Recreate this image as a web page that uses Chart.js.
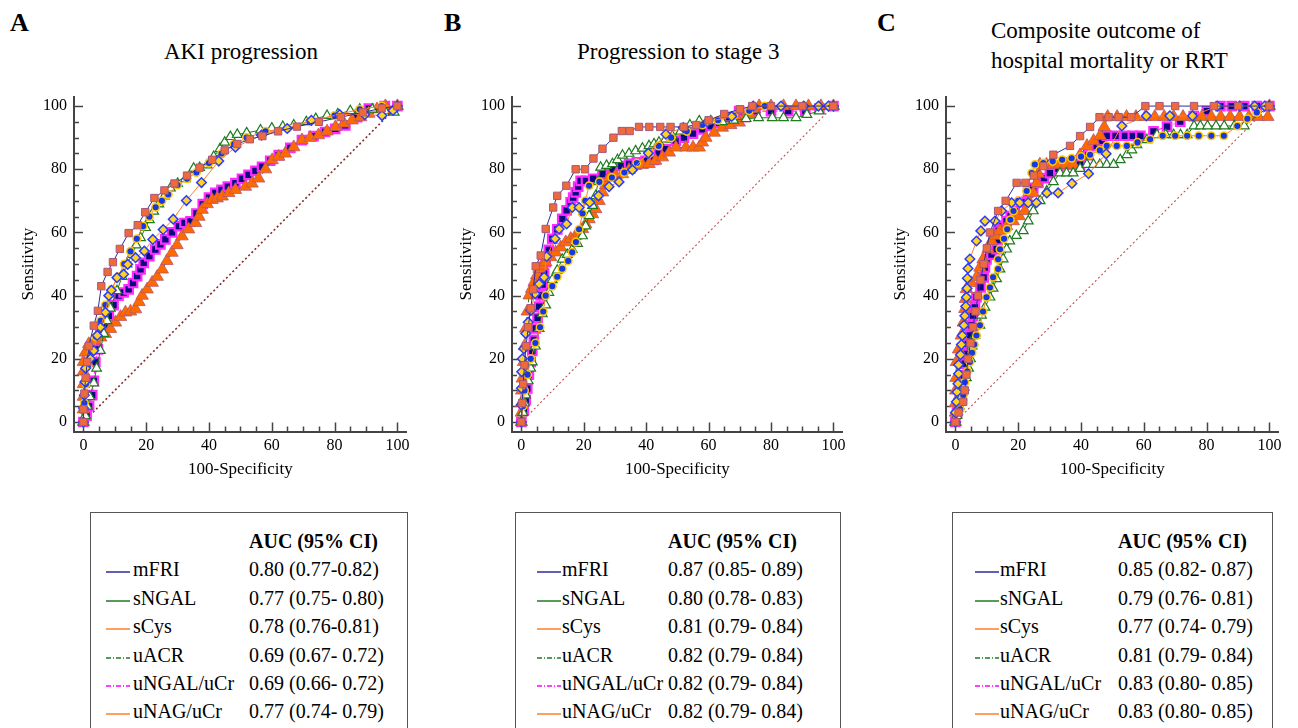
<!DOCTYPE html>
<html>
<head>
<meta charset="utf-8">
<title>ROC curves</title>
<script src="https://cdn.jsdelivr.net/npm/chart.js@4.4.1/dist/chart.umd.min.js"></script>
<style>
  body { margin: 0; width: 1298px; height: 728px; overflow: hidden; position: relative; background: #fff;
         font-family: "Liberation Serif", "Times New Roman", serif; color: #000; }
  .letter { position: absolute; font-size: 26px; font-weight: bold; line-height: 26px; }
  .ptitle { position: absolute; font-size: 23px; line-height: 30px; white-space: nowrap; }
  canvas { position: absolute; top: 80px; }
  .legend { position: absolute; top: 512px; height: 240px; border: 1px solid #555; box-sizing: border-box; }
  .legend div { position: absolute; font-size: 20px; line-height: 28px; white-space: pre; }
  .legend .hdr { font-weight: bold; }
  .legend svg { position: absolute; }
</style>
</head>
<body>
<div class="letter" style="left:10px;top:10px">A</div>
<div class="letter" style="left:444px;top:10px">B</div>
<div class="letter" style="left:877px;top:10px">C</div>
<div class="ptitle" style="left:164px;top:37px">AKI progression</div>
<div class="ptitle" style="left:577px;top:37px">Progression to stage 3</div>
<div class="ptitle" style="left:991px;top:16px">Composite outcome of<br>hospital mortality or RRT</div>

<canvas id="chartA"></canvas>
<canvas id="chartB"></canvas>
<canvas id="chartC"></canvas>

<div class="legend" id="legA" style="left:90px;width:318px"></div>
<div class="legend" id="legB" style="left:515px;width:326px"></div>
<div class="legend" id="legC" style="left:952px;width:321px"></div>

<script>
// Points are [100-Specificity, Sensitivity]

// A - AKI progression
const aMFRI = [[0,0],[0,4],[0.3,9],[0.7,14],[1.2,19],[1.7,24],[3.3,30.5],[4.6,35.2],[5.7,43],[7.7,47.5],[9.4,50.6],[11.6,54.8],[14.4,59.8],[17.3,62.3],[19.7,66.4],[22.6,70.9],[25.8,73.3],[29,75.5],[33,78],[37,80.5],[41,83],[45,86],[49,88],[53,89.5],[57,90.5],[62,92],[68,93.5],[75,95],[82,96.5],[89,98],[95,99.3],[100,100]];
const aSNGAL = [[0,0],[0.6,2],[1.2,5],[2,8],[3.3,12.3],[4.2,17],[5.4,22.6],[6.5,28],[7.5,32],[8.6,36],[10.7,41.5],[12.3,46],[13.9,50],[15.5,53],[16.8,56],[18.2,58.3],[19.8,61.5],[21,64],[22.4,66.7],[24,69],[25.8,71.5],[27.7,74],[30,75.5],[32.5,77],[35.1,80.3],[37,80.5],[39.4,81.3],[41.5,84],[43.5,86.5],[45,88.5],[46.8,90.3],[49,91],[52,91.5],[56.4,92.4],[60,93],[63.5,93.5],[67,94],[71,95],[74,96],[77.6,97],[81,97.5],[85,98.5],[88,99],[92,99],[96,98.5],[99,98],[100,100]];
const aSCYS = [[0,0],[0,4.4],[0.3,8.5],[0.5,12.7],[0.7,17],[2.2,20],[3.3,22.6],[4.4,27.4],[5.4,30],[7,34.7],[8.1,40],[8.9,41.7],[10.7,45.7],[12.8,46.8],[14.1,49.9],[16.6,52],[19.4,54.1],[22.1,57.8],[25.4,60.9],[28.6,64.2],[32.8,70.1],[37.6,75.8],[43.1,82.6],[48.4,87],[56.7,90.8],[64.9,92.9],[72.6,95.5],[81.6,97.3],[89.6,97.3],[95.1,97],[98.6,98.6],[100,100]];
const aUACR = [[0,0],[0,4],[0,8],[0,12],[0,16],[0,19],[0.6,22],[1.7,24.7],[3.8,25.8],[5.5,26.8],[7,27.9],[8.6,29.5],[10.2,31.5],[11.8,33.3],[13.4,34.7],[15,35],[16.6,35.7],[17.7,38],[18.7,40],[20.3,42],[21.9,44.1],[23.5,46],[25.1,48.3],[26.6,51],[28.2,53.6],[29.8,56],[31.4,58.8],[33.5,61],[35.7,63],[36.8,65],[37.8,67.2],[39.4,69],[41,70.3],[42.6,70.8],[44.2,71.4],[46.3,72.5],[48.4,73.5],[51.6,74.5],[53.7,75.5],[55.8,77.1],[58,80],[60.1,82.9],[62.2,84],[64.3,85],[67,87],[69.6,89.2],[72.2,90],[74.9,90.8],[77.6,92],[80.3,93.4],[83,94.5],[85.6,95.5],[88.3,96.5],[90.9,97.6],[93.5,99],[96.2,100],[100,100]];
const aUNGAL = [[0,0],[1,2],[1.8,5],[2.8,8.5],[3.3,13],[3.8,19],[4.6,23],[5.4,27.4],[6.7,30.5],[8.1,33.6],[9.6,37],[11.2,40],[12.8,41],[14.4,42],[15.8,44],[17.1,46.2],[18.2,48.3],[19.2,50.4],[21,52.5],[22.9,54.6],[24.5,56.2],[26.1,57.8],[28.2,60],[30.4,62],[32.2,63],[34.1,63.5],[36,66],[38,69],[40,71],[42,72.5],[44,73.5],[46,74.5],[48.4,75.6],[50.5,77],[52.6,78.2],[54.8,79.5],[56.9,80.8],[59.5,82.7],[62.2,84.5],[65.9,86.8],[69.6,89.2],[73.3,90.5],[77,91.8],[80.2,92.8],[83.4,93.9],[87.2,96.5],[90.9,99.2],[96,100],[100,100]];
const aUNAG = [[0,0],[0.3,6],[0.8,12],[1.5,18],[2.5,22],[4,27],[5.5,32],[7,37],[9,42],[11,46],[13,50],[15,54],[17,58],[19,62],[21,65],[23,68],[25,70],[27,72],[30,75],[33,77],[36,79],[40,82],[44,85],[48,88],[52,90],[58,92],[65,93],[72,95],[80,97],[88,99],[95,100],[100,100]];

// B - Progression to stage 3
const bMFRI = [[0,0],[0.3,6],[0.6,12],[1,18],[1.5,24],[2.2,30],[3,36],[3.8,42],[4.6,49.3],[6.2,52.7],[7.8,61.1],[10.2,67.9],[11.5,71.6],[14.4,74.8],[17.4,80],[20.4,80],[23.1,83.4],[26,86.5],[29.5,90],[32.2,92.1],[34.7,92.1],[37.7,93.4],[41,93.4],[44.5,93.4],[47.8,93.4],[52,93.4],[56,94],[60,95.5],[65,97.5],[70,99],[74,100],[80,100],[90,100],[100,100]];
const bSNGAL = [[0,0],[0.5,3],[1,6],[1.4,8.5],[2.2,13],[3,17],[3.5,19],[4.5,24],[5.7,29.6],[6.7,34.2],[7.8,37],[8.8,41],[9.9,45],[11.5,48],[13.1,51.5],[14.7,53],[16.3,54.6],[18,56.5],[19.6,58.9],[20.6,62],[21.7,65.3],[22.8,68.5],[23.8,71.6],[24.6,76],[25.4,80.6],[27.3,81.2],[29.2,81.7],[30.8,83],[32.4,84.4],[34.5,85],[36.6,85.8],[38.8,86.6],[40.9,87.4],[42.5,88],[44.1,88.5],[46.2,89.5],[48.4,90.5],[51,92],[54,94],[57,95.3],[60.7,95.3],[64.4,95],[68,95.5],[72,96],[76,96.3],[80.4,96.3],[84,96.3],[88,96.3],[91.5,97.3],[95.4,98.4],[100,100]];
const bSCYS = [[0,0],[0,5.4],[0,10.7],[0.1,15.9],[0.3,20],[0.8,23.2],[1.4,28],[2.2,31.6],[3,35.3],[4.4,40.6],[5.7,43.7],[7.3,45.8],[8.1,52.4],[10.8,58],[12.1,61.1],[14.5,62.7],[16.3,67.9],[18.5,67.9],[21.9,69.5],[24.7,71.6],[28.1,74.5],[31.3,76],[35.6,79.8],[40.7,85.1],[46.3,91.1],[51.9,93.2],[59.6,95],[67.4,96.7],[74.3,100],[83.2,100],[90.5,100],[95.2,100],[98.4,100],[100,100]];
const bUACR = [[0,0],[0,3],[0,6],[0.1,10],[0.3,13.8],[0.7,19],[1,24],[1.4,29.6],[1.9,35],[2.5,40.1],[3.3,42.2],[4.1,44.3],[4.9,46.4],[5.7,48.5],[6.7,49.5],[7.8,50.6],[9.4,52.2],[11,53.7],[12.6,55.3],[14.2,56.9],[15.8,58],[17.4,59],[18.5,60],[19.6,61.1],[20.6,62.6],[21.7,64.2],[22.8,65.8],[23.8,67.4],[24.9,70],[26,72.7],[27,75],[28.1,77.4],[30.2,78],[32.4,78.5],[34.5,79.8],[36.6,81.1],[38.8,81.4],[40.9,81.7],[43,82.7],[45.2,83.8],[47.4,85.3],[49.5,86.9],[52.7,86.9],[55,86.9],[57,86.9],[58,88.5],[59.1,90],[61.8,91.6],[64.4,93.2],[67.1,94],[69.8,94.8],[71.4,96.1],[73,97.5],[74.6,99],[76.2,100],[80,100],[84,100],[88,100],[92,100],[96,100],[100,100]];
const bUNGAL = [[0,0],[0.8,4],[1.4,7],[1.9,10.6],[2.4,15],[3,19],[3.5,22.5],[4,26],[4.6,29.6],[5.2,33],[5.7,36.5],[6.2,40.1],[6.8,43.5],[7.3,47],[7.8,50.6],[8.8,54.5],[9.9,58],[11.5,61],[13.1,64.3],[14.5,67],[15.8,69.5],[16.6,71],[17.4,72.7],[18.2,74.5],[19,76.3],[20.7,76.3],[23,77],[26,78.5],[29.2,80],[32,81],[34.5,81.7],[37,82.2],[39.8,82.7],[42.5,83],[44,85],[46.3,86.4],[49.5,89],[52.1,90],[55,91.3],[58,92.6],[60.7,93.7],[63.4,94.7],[66.6,96.5],[69.8,98.4],[75,98.4],[80,98.4],[85.5,98.4],[91,98.4],[95.5,99.2],[100,100]];
const bUNAG = [[0,0],[0.5,5],[1,10],[2,15],[3,20],[4.5,25],[6,30],[7,35],[7.8,40],[9.9,43],[11.5,46],[13.1,48.5],[15,51],[16.3,53.7],[17.5,57],[18.5,61],[19.6,66],[20.5,70],[21.7,74.8],[25,76],[29,77.4],[33,79],[37,82],[41,85],[44,87.4],[48,90],[53,92],[58,94],[63,95.5],[68,97],[73,98.5],[78,100],[100,100]];

// C - Composite outcome of hospital mortality or RRT
const cMFRI = [[0,0],[1,3],[2.5,6.4],[3,10],[3.5,15],[4,20],[4.8,25],[5.6,30],[6.4,35],[7.2,40],[8,45],[9,50],[10,55],[11,60],[13.6,66.8],[16,70],[19.5,75.7],[22.3,75.7],[25,78],[28,81],[31.2,84.6],[36.5,87.4],[39.7,90.5],[42.9,93.4],[45.9,96.5],[48.8,96.5],[52,96.5],[56,96.5],[60.5,100],[65,100],[70,100],[76,100],[82.3,100],[90,100],[100,100]];
const cSNGAL = [[0,0],[0.5,2],[1.2,5],[2,8],[2.8,11],[3.5,14],[4.2,17],[4.8,20],[5.3,24],[6.2,27.4],[7.8,30.6],[8.3,33.8],[9.4,36.3],[11,39.5],[12,42.3],[13.1,45.3],[14.2,48.4],[15.2,51.6],[16.3,54.7],[17.3,57.3],[19.4,59],[21.6,60.5],[23.2,63.6],[24.8,66.8],[27,70],[29.1,73.1],[31.2,76],[33.3,78.8],[35.4,78.8],[37.5,78.8],[39.7,80.2],[41.9,81.5],[44,81.5],[46,81.5],[48.2,81.5],[50.4,81.5],[52.5,83],[54.6,84.6],[56.2,86.1],[57.8,87.7],[61,89.3],[64.2,90.9],[67,90.9],[69.5,90.9],[71.7,90.9],[73.8,90.9],[76,93.7],[78,93.7],[80.3,93.7],[83,93.7],[85.6,93.7],[88.8,93.7],[92,93.7],[100,100]];
const cSCYS = [[0,0],[0,3],[0.3,6.4],[0.5,9.5],[0.8,12.1],[1,15.3],[1,18.1],[1.6,21.3],[1.9,24.5],[2.2,27.4],[2.7,30.6],[3,33.6],[3.3,36.6],[3.5,39.5],[3.7,42.3],[3.8,45.5],[4,48.6],[4.6,51.6],[6.7,57.3],[8.1,60.5],[9.4,63.6],[12.6,63.6],[14.7,66.8],[17.9,69.4],[20.5,69.4],[23.2,69.4],[25.8,69.4],[29.1,72.5],[32.7,72.5],[37.1,75.5],[42.4,78.6],[48,84.9],[53,93.7],[60.8,96.9],[68.3,96.9],[75.5,96.9],[83.4,100],[90.5,100],[95.3,100],[98.5,100],[100,100]];
const cUACR = [[0,0],[0,3],[0,6],[0.1,10],[0.2,14],[0.3,19],[1,23],[1.9,27.4],[2.5,31.5],[3,35.8],[3.2,39],[3.5,42.1],[5,44],[6.7,45.8],[7.8,48.9],[8.8,51.5],[10.4,54.7],[11.5,57.3],[12.8,59],[14.2,60.5],[16.3,62],[18.4,63.6],[20.3,65.2],[22.1,66.8],[23.5,69.7],[24.8,72.5],[25.9,75.7],[26.4,78.6],[26.9,81.5],[29,81.5],[31.2,81.5],[33.3,81.5],[35.4,81.5],[37.5,81.5],[39.7,84.5],[41.9,87.4],[44,89],[46.1,90.6],[47.4,93.4],[48.5,96.6],[51.5,96.6],[54.5,96.6],[57.5,96.6],[60.5,96.6],[63.5,96.6],[66.5,96.6],[69.5,96.6],[72.5,96.6],[75.5,96.6],[78.5,96.6],[81.5,96.6],[84.5,96.6],[87.5,96.6],[90.5,96.6],[93.5,96.6],[96.5,96.6],[99.5,96.6],[100,100]];
const cUNGAL = [[0,0],[0.5,3],[1,6],[1.4,9.5],[1.9,14.8],[3,18.5],[3.5,21.6],[4,24.8],[4.6,27.4],[5.1,30.6],[5.6,33.7],[6.2,36.3],[6.7,39.5],[8,42.6],[9,45.8],[9.4,48.9],[9.9,51.5],[11.5,53],[13.1,54.7],[13.4,57.6],[13.6,60.5],[15,62],[16.3,63.6],[17.6,65.2],[18.9,66.8],[21,69.6],[23.2,72.5],[24.8,74.1],[26.4,75.7],[28.2,77.2],[30.1,78.8],[32.8,80.1],[35.5,81.5],[37.6,81.5],[39.7,81.5],[42.3,84.5],[45,87.4],[46.6,89],[48.2,90.6],[51,90.6],[54,90.6],[56.5,90.6],[58.9,90.6],[63.1,92],[67.4,93.5],[71.6,95.1],[75.9,96.8],[80.1,98.4],[84.4,100],[88,100],[92,100],[96,100],[100,100]];
const cUNAG = [[0,0],[1.5,4],[2.5,8.5],[3,12.6],[3.8,16],[4.6,19],[5.3,21.9],[6,24.5],[6.7,27.4],[7.8,30.6],[8.8,35],[9.9,39.5],[11,42.6],[12,45.8],[13.6,48.4],[13.6,51.5],[14.2,54.7],[15.5,58],[16.5,61],[17.5,64],[18.5,66.8],[20,70],[22.7,73.1],[24.3,78.8],[25.3,81.5],[28,82],[31,82.5],[34,83],[37,83.5],[40,84],[42.9,84.6],[46,86],[48.2,87.4],[51.4,87.4],[54.6,87.4],[58,88.5],[62,89.5],[66,90.6],[70,90.6],[73.8,90.6],[77.5,90.6],[81.5,90.6],[85.5,90.6],[89.8,93.7],[93,96],[96,98],[100,100]];

const diagonal = [[0,0],[100,100]];

const seriesNames = ['mFRI', 'sNGAL', 'sCys', 'uACR', 'uNGAL/uCr', 'uNAG/uCr'];
const aucA = ['0.80 (0.77-0.82)', '0.77 (0.75- 0.80)', '0.78 (0.76-0.81)', '0.69 (0.67- 0.72)', '0.69 (0.66- 0.72)', '0.77 (0.74- 0.79)'];
const aucB = ['0.87 (0.85- 0.89)', '0.80 (0.78- 0.83)', '0.81 (0.79- 0.84)', '0.82 (0.79- 0.84)', '0.82 (0.79- 0.84)', '0.82 (0.79- 0.84)'];
const aucC = ['0.85 (0.82- 0.87)', '0.79 (0.76- 0.81)', '0.77 (0.74- 0.79)', '0.81 (0.79- 0.84)', '0.83 (0.80- 0.85)', '0.83 (0.80- 0.85)'];
const tickVals = [0, 20, 40, 60, 80, 100];

// marker / line look per series
const looks = {
    'mFRI':      { line: '#2b2b9e', style: 'rect',     r: 5.2, fill: '#ef6a3a', edge: '#a4587e', bw: 1 },
    'sNGAL':     { line: '#1e7b1e', style: 'triangle', r: 5.6, fill: '#ffffff', edge: '#1e7b1e', bw: 1.2 },
    'sCys':      { line: '#ff7f2a', style: 'rectRot',  r: 4.8, fill: '#ffd21f', edge: '#2a3cff', bw: 1.5 },
    'uACR':      { line: '#1e7b1e', dash: [5, 2, 1, 2], style: 'triangle', r: 7.2, fill: '#ff6a00', edge: '#b8566a', bw: 0.8 },
    'uNGAL/uCr': { line: '#ff00ff', dash: [5, 2, 1, 2], style: 'rect', r: 6, fill: '#0a0a80', edge: '#ff2bff', bw: 2.2 },
    'uNAG/uCr':  { line: '#ff7f2a', style: 'circle',   r: 3.8, fill: '#1438e6', edge: '#ffc800', bw: 1.5 }
};
// first drawn on top
const drawOrder = ['mFRI', 'sCys', 'uNAG/uCr', 'sNGAL', 'uACR', 'uNGAL/uCr'];

const AXIS_W = 74, CANVAS_H = 420, AREA_TOP = 14.5, XAXIS_H = 68.5;

Chart.defaults.font.family = '"Liberation Serif", "Times New Roman", serif';
Chart.defaults.color = '#000';

// small inward tick marks every 5, long ones at the labelled values
const tickMarks = {
    id: 'tickMarks',
    beforeDatasetsDraw(chart) {
        const { ctx, chartArea, scales } = chart;
        ctx.save();
        ctx.strokeStyle = '#444';
        ctx.lineWidth = 1.5;
        ctx.beginPath();
        for (let v = 0; v <= 100; v += 5) {
            const len = v % 20 === 0 ? 9 : 5;
            const x = Math.round(scales.x.getPixelForValue(v)) + 0.5;
            const y = Math.round(scales.y.getPixelForValue(v)) + 0.5;
            ctx.moveTo(x, chartArea.bottom);
            ctx.lineTo(x, chartArea.bottom - len);
            ctx.moveTo(chartArea.left, y);
            ctx.lineTo(chartArea.left + len, y);
        }
        ctx.stroke();
        ctx.restore();
    }
};

function toXY(pairs) {
    return pairs.map(p => ({ x: p[0], y: p[1] }));
}

function axisOptions(title, isX) {
    return {
        type: 'linear',
        min: -3,
        max: 103,
        afterBuildTicks: s => { s.ticks = tickVals.map(v => ({ value: v })); },
        afterFit: s => { if (isX) s.height = XAXIS_H; else s.width = AXIS_W; },
        grid: { display: false, drawTicks: false },
        border: { display: true, color: '#444', width: 2 },
        ticks: { padding: isX ? 5 : 7, font: { size: 16 }, color: '#000', maxRotation: 0, autoSkip: false },
        title: { display: true, text: title, font: { size: 17 }, color: '#000',
                 padding: isX ? { bottom: 20 } : { top: 18 } }
    };
}

function buildPanel(canvasId, areaLeft, areaRight, seriesData, diagColor, diagWidth) {
    const canvas = document.getElementById(canvasId);
    const left = areaLeft - AXIS_W;
    const width = Math.round(areaRight - left + 12);
    canvas.width = width;
    canvas.height = CANVAS_H;
    canvas.style.left = left + 'px';
    canvas.style.width = width + 'px';
    canvas.style.height = CANVAS_H + 'px';

    const datasets = drawOrder.map(name => {
        const lk = looks[name];
        return {
            label: name,
            data: toXY(seriesData[name]),
            showLine: true,
            borderColor: lk.line,
            borderWidth: 1,
            borderDash: lk.dash || [],
            pointStyle: lk.style,
            pointRadius: lk.r,
            pointBackgroundColor: lk.fill,
            pointBorderColor: lk.edge,
            pointBorderWidth: lk.bw,
            pointHoverRadius: lk.r
        };
    });
    datasets.push({
        label: 'reference',
        data: toXY(diagonal),
        showLine: true,
        borderColor: diagColor,
        borderWidth: diagWidth,
        borderDash: [2, 2.5],
        pointRadius: 0
    });

    new Chart(canvas, {
        type: 'scatter',
        data: { datasets },
        plugins: [tickMarks],
        options: {
            responsive: false,
            animation: false,
            devicePixelRatio: 1,
            layout: { padding: { left: 0, right: width - (areaRight - left), top: AREA_TOP, bottom: 0 } },
            plugins: { legend: { display: false }, tooltip: { enabled: false } },
            scales: {
                x: axisOptions('100-Specificity', true),
                y: axisOptions('Sensitivity', false)
            }
        }
    });
}

function buildLegend(boxId, aucs, colSample, colLabel, colValue) {
    const box = document.getElementById(boxId);
    let html = `<div class="hdr" style="left:${colValue}px;top:14px">AUC (95% CI)</div>`;
    seriesNames.forEach((name, i) => {
        const lk = looks[name];
        const top = 42.4 + i * 28.4;
        const dash = lk.dash ? `stroke-dasharray="${lk.dash.join(',')}"` : '';
        html += `<svg width="24" height="6" style="left:${colSample}px;top:${top + 14}px">` +
                `<line x1="0" y1="3" x2="24" y2="3" stroke="${lk.line}" stroke-width="1.5" ${dash}/></svg>`;
        html += `<div style="left:${colLabel}px;top:${top}px">${name}</div>`;
        html += `<div style="left:${colValue}px;top:${top}px">${aucs[i]}</div>`;
    });
    box.innerHTML = html;
}

buildPanel('chartA', 74.1, 406.9,
    { 'mFRI': aMFRI, 'sNGAL': aSNGAL, 'sCys': aSCYS, 'uACR': aUACR, 'uNGAL/uCr': aUNGAL, 'uNAG/uCr': aUNAG },
    '#8a2a2a', 1.6);
buildPanel('chartB', 511.6, 842.4,
    { 'mFRI': bMFRI, 'sNGAL': bSNGAL, 'sCys': bSCYS, 'uACR': bUACR, 'uNGAL/uCr': bUNGAL, 'uNAG/uCr': bUNAG },
    '#c0504d', 1.1);
buildPanel('chartC', 945.6, 1278.4,
    { 'mFRI': cMFRI, 'sNGAL': cSNGAL, 'sCys': cSCYS, 'uACR': cUACR, 'uNGAL/uCr': cUNGAL, 'uNAG/uCr': cUNAG },
    '#c0504d', 1.1);

buildLegend('legA', aucA, 15, 42, 158);
buildLegend('legB', aucB, 21, 46, 152);
buildLegend('legC', aucC, 22, 47, 165);
</script>
</body>
</html>
